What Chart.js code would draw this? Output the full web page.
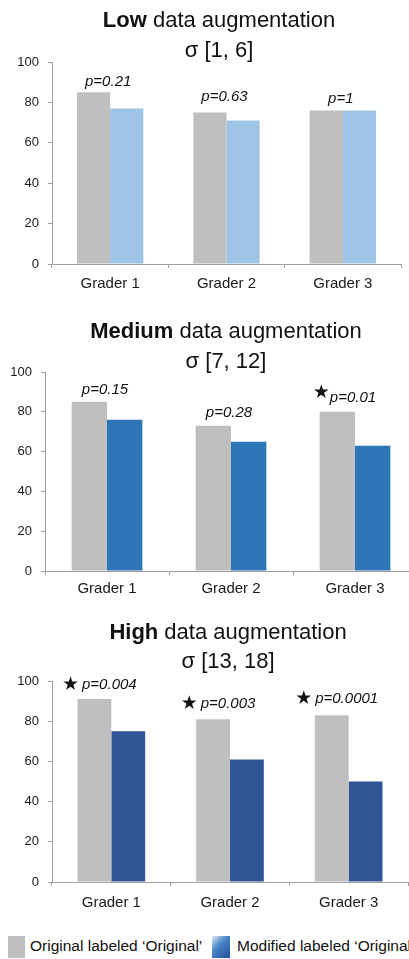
<!DOCTYPE html>
<html>
<head>
<meta charset="utf-8">
<script src="https://cdn.jsdelivr.net/npm/chart.js@4.4.1/dist/chart.umd.min.js"></script>
<style>
  body { margin: 0; background: #fff; font-family: "Liberation Sans", Arial, sans-serif; }
  #wrap { position: relative; width: 409px; height: 959px; overflow: hidden; }
  #wrap canvas { position: absolute; left: 0; }
  .key { position: absolute; top: 936px; height: 22px; }
  .lbl { position: absolute; top: 937px; font-size: 15.5px; color: #111; white-space: nowrap; }
</style>
</head>
<body>
<div id="wrap">
  <canvas id="low" width="409" height="300" style="top:0"></canvas>
  <canvas id="medium" width="420" height="310" style="top:300px"></canvas>
  <canvas id="high" width="409" height="310" style="top:610px"></canvas>
  <div class="key" style="left:8px;width:17px;background:#bfbfbf"></div>
  <div class="lbl" style="left:30px">Original labeled ‘Original’</div>
  <div class="key" style="left:212px;width:18px;background:linear-gradient(135deg,#e3eef9 0%,#4a86c8 40%,#1f4f9c 100%)"></div>
  <div class="lbl" style="left:237px">Modified labeled ‘Original’</div>
</div>
<script>
const graders = ['Grader 1', 'Grader 2', 'Grader 3'];

// low sigma [1, 6]
const lowOriginal = [85, 75, 76];
const lowModified = [77, 71, 76];
const lowP = ['p=0.21', 'p=0.63', 'p=1'];
const lowStar = [false, false, false];
const lowPAt = [90, 83, 82];

// medium sigma [7, 12]
const medOriginal = [85, 73, 80];
const medModified = [76, 65, 63];
const medP = ['p=0.15', 'p=0.28', 'p=0.01'];
const medStar = [false, false, true];
const medPAt = [91, 79.5, 87];

// high sigma [13, 18]
const highOriginal = [91, 81, 83];
const highModified = [75, 61, 50];
const highP = ['p=0.004', 'p=0.003', 'p=0.0001'];
const highStar = [true, true, true];
const highPAt = [98, 88.5, 91];

const yMin = 0, yMax = 100, yStep = 20;

const FONT = '"Liberation Sans", Arial, sans-serif';
const axisGray = '#a0a0a0';

// draws the two line title and the p-value notes
const panelTextPlugin = {
    id: 'panelText',
    afterDraw(chart, args, opts) {
        const ctx = chart.ctx;
        ctx.save();
        ctx.fillStyle = '#111';
        ctx.textBaseline = 'middle';

        // first title line: bold word + normal rest
        ctx.font = 'bold 22px ' + FONT;
        const wb = ctx.measureText(opts.bold).width;
        ctx.font = '22px ' + FONT;
        const wr = ctx.measureText(opts.rest).width;
        let x0 = opts.cx - (wb + wr) / 2;
        ctx.textAlign = 'left';
        ctx.font = 'bold 22px ' + FONT;
        ctx.fillText(opts.bold, x0, opts.y1);
        ctx.font = '22px ' + FONT;
        ctx.fillText(opts.rest, x0 + wb, opts.y1);
        ctx.textAlign = 'center';
        ctx.fillText(opts.sigma, opts.cx, opts.y2);

        // p values
        const xs = chart.scales.x, ys = chart.scales.y;
        opts.pText.forEach((t, i) => {
            const cx = xs.getPixelForValue(i) - 2;
            const cy = ys.getPixelForValue(opts.pAt[i]);
            ctx.font = 'italic 15px ' + FONT;
            ctx.textAlign = 'center';
            ctx.fillText(t, cx, cy);
            if (opts.star[i]) {
                const w = ctx.measureText(t).width;
                ctx.font = '19px "DejaVu Sans"';
                ctx.textAlign = 'right';
                ctx.fillText('\u2605', cx - w / 2 - opts.starGap, cy + opts.starDy);
            }
        });
        ctx.restore();
    }
};

function makePanel(id, original, modified, blue, p, star, pAt, t, geo) {
    new Chart(document.getElementById(id), {
        type: 'bar',
        data: {
            labels: graders,
            datasets: [
                { label: 'Original', data: original, backgroundColor: '#bfbfbf', borderWidth: 0 },
                { label: 'Modified', data: modified, backgroundColor: blue, borderWidth: 0 }
            ]
        },
        options: {
            responsive: false,
            animation: false,
            categoryPercentage: 0.57,
            barPercentage: 1.0,
            layout: {
                padding: { top: geo.top, right: geo.padR, bottom: geo.h - geo.bottom - 40, left: 0 }
            },
            scales: {
                x: {
                    grid: { drawOnChartArea: false, color: axisGray, tickLength: 4 },
                    border: { color: axisGray },
                    ticks: { font: { size: 15, family: FONT }, color: '#1a1a1a', padding: geo.xPad },
                    afterFit: s => { s.height = 40; }
                },
                y: {
                    min: yMin, max: yMax,
                    ticks: { stepSize: yStep, font: { size: 13, family: FONT }, color: '#1a1a1a', padding: 9 },
                    grid: { drawOnChartArea: false, color: axisGray, tickLength: 4 },
                    border: { color: axisGray },
                    afterFit: s => { s.width = geo.left; }
                }
            },
            plugins: {
                legend: { display: false },
                tooltip: { enabled: false },
                panelText: {
                    bold: t.bold, rest: t.rest, sigma: t.sigma,
                    cx: t.cx, y1: t.y1, y2: t.y2,
                    pText: p, star: star, pAt: pAt,
                    starGap: t.starGap, starDy: t.starDy
                }
            }
        },
        plugins: [panelTextPlugin]
    });
}

makePanel('low', lowOriginal, lowModified, '#9dc3e6', lowP, lowStar, lowPAt,
    { bold: 'Low', rest: ' data augmentation', sigma: 'σ [1, 6]', cx: 219, y1: 21, y2: 51, starGap: 3, starDy: 0 },
    { h: 300, top: 62, bottom: 264, left: 52, padR: 8, xPad: 7 });

makePanel('medium', medOriginal, medModified, '#2e75b6', medP, medStar, medPAt,
    { bold: 'Medium', rest: ' data augmentation', sigma: 'σ [7, 12]', cx: 226, y1: 32, y2: 62, starGap: 0, starDy: -5 },
    { h: 310, top: 72, bottom: 271, left: 45, padR: 3, xPad: 5 });

makePanel('high', highOriginal, highModified, '#2f5597', highP, highStar, highPAt,
    { bold: 'High', rest: ' data augmentation', sigma: 'σ [13, 18]', cx: 228, y1: 23, y2: 52, starGap: 3, starDy: 0 },
    { h: 310, top: 71, bottom: 272, left: 52, padR: 1, xPad: 8 });
</script>
</body>
</html>
